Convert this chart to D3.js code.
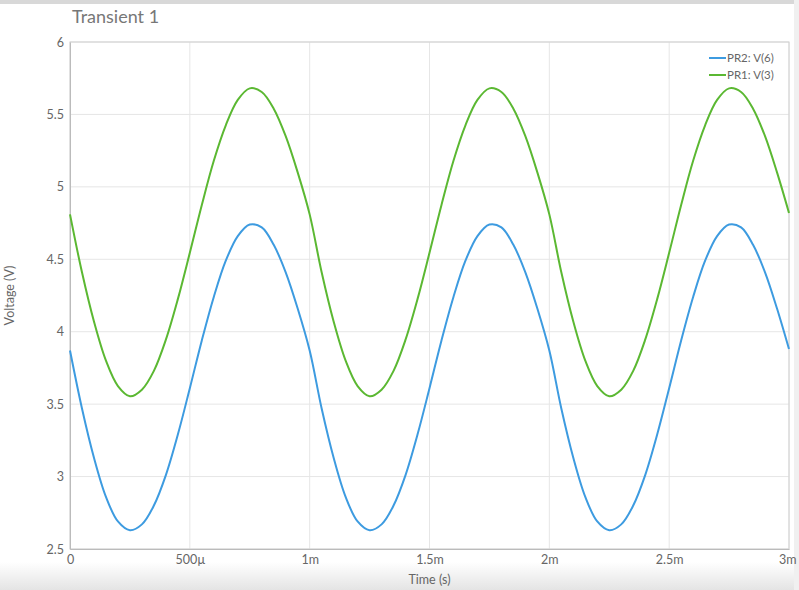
<!DOCTYPE html>
<html>
<head>
<meta charset="utf-8">
<script src="https://cdn.jsdelivr.net/npm/d3@7"></script>
<style>
  body { margin: 0; background: #fff; }
  svg { display: block; font-family: Lato, "Open Sans", sans-serif; }
</style>
</head>
<body>
<svg id="chart" width="799" height="590"></svg>
<script>
// time in ms, sampled every 50us
var times = d3.range(61).map(function (i) { return i * 0.05; });
var blueCycle = [3.87, 3.47, 3.13, 2.86, 2.69, 2.63, 2.67, 2.80, 3.01, 3.29,
                 3.61, 3.94, 4.24, 4.49, 4.66, 4.74, 4.72, 4.60, 4.41, 4.16];
var greenCycle = [4.81, 4.41, 4.07, 3.80, 3.625, 3.555, 3.60, 3.73, 3.945, 4.225,
                  4.545, 4.875, 5.18, 5.425, 5.60, 5.68, 5.655, 5.54, 5.35, 5.10];
var blueValues = blueCycle.concat(blueCycle, blueCycle, [3.88]);
var greenValues = greenCycle.concat(greenCycle, greenCycle, [4.82]);
var series = [
  {name: "PR2: V(6)", color: "#3d9be0", values: blueValues},
  {name: "PR1: V(3)", color: "#5bb832", values: greenValues}
];
var xTicks = [0, 0.5, 1, 1.5, 2, 2.5, 3];
var xTickLabels = ["0", "500\u00b5", "1m", "1.5m", "2m", "2.5m", "3m"];
var yTicks = [2.5, 3, 3.5, 4, 4.5, 5, 5.5, 6];

var svg = d3.select("#chart");
var m = {left: 70, right: 789, top: 42, bottom: 549};

// top shadow and bottom fade
var defs = svg.append("defs");
var g1 = defs.append("linearGradient").attr("id", "fade").attr("x1", 0).attr("x2", 0).attr("y1", 0).attr("y2", 1);
g1.append("stop").attr("offset", "0%").attr("stop-color", "#fff");
g1.append("stop").attr("offset", "100%").attr("stop-color", "#e4e4e4");
svg.append("rect").attr("x", 0).attr("y", 562).attr("width", 799).attr("height", 28).attr("fill", "url(#fade)");
svg.append("rect").attr("x", 0).attr("y", 0).attr("width", 799).attr("height", 4).attr("fill", "#d8d8d8");
svg.append("rect").attr("x", 794).attr("y", 0).attr("width", 5).attr("height", 590).attr("fill", "#f0f0f0");

var x = d3.scaleLinear().domain([0, 3]).range([m.left, m.right]);
var y = d3.scaleLinear().domain([2.5, 6]).range([m.bottom, m.top]);

svg.append("g").selectAll("line.gx").data(xTicks).join("line")
  .attr("x1", x).attr("x2", x).attr("y1", m.top).attr("y2", m.bottom)
  .attr("stroke", "#e6e6e6");
svg.append("g").selectAll("line.gy").data(yTicks).join("line")
  .attr("y1", y).attr("y2", y).attr("x1", m.left).attr("x2", m.right)
  .attr("stroke", "#e6e6e6");
svg.append("rect").attr("x", m.left).attr("y", m.top)
  .attr("width", m.right - m.left).attr("height", m.bottom - m.top)
  .attr("fill", "none").attr("stroke", "#d0d0d0");

var xAxis = svg.append("g").attr("transform", "translate(0," + m.bottom + ")")
  .call(d3.axisBottom(x).tickValues(xTicks).tickSize(0).tickPadding(6)
    .tickFormat(function (d, i) { return xTickLabels[i]; }));
var yAxis = svg.append("g").attr("transform", "translate(" + m.left + ",0)")
  .call(d3.axisLeft(y).tickValues(yTicks).tickSize(0).tickPadding(6).tickFormat(d3.format("")));
[xAxis, yAxis].forEach(function (a) {
  a.select(".domain").attr("stroke", "#bbb");
  a.selectAll("text").attr("fill", "#666").attr("font-size", 12.5).attr("font-family", "Lato, sans-serif");
});
xAxis.selectAll("text").filter(function (d) { return d === 3; }).attr("text-anchor", "end").attr("dx", "7");

svg.append("text").attr("x", (m.left + m.right) / 2).attr("y", 584).attr("text-anchor", "middle")
  .attr("fill", "#666").attr("font-size", 12.5).text("Time (s)");
svg.append("text").attr("transform", "translate(14," + ((m.top + m.bottom) / 2) + ") rotate(-90)")
  .attr("text-anchor", "middle").attr("fill", "#666").attr("font-size", 12.5).text("Voltage (V)");
svg.append("text").attr("x", 72).attr("y", 23).attr("fill", "#777").attr("font-size", 18).text("Transient 1");

var line = d3.line().x(function (d, i) { return x(times[i]); }).y(function (d) { return y(d); })
  .curve(d3.curveCatmullRom);
series.forEach(function (s) {
  svg.append("path").datum(s.values).attr("d", line).attr("fill", "none")
    .attr("stroke", s.color).attr("stroke-width", 2);
});

var leg = svg.append("g");
series.forEach(function (s, i) {
  var ly = 58 + i * 17;
  leg.append("line").attr("x1", 709).attr("x2", 726).attr("y1", ly).attr("y2", ly)
    .attr("stroke", s.color).attr("stroke-width", 2);
  leg.append("text").attr("x", 727).attr("y", ly + 4).attr("fill", "#666").attr("font-size", 11.5).text(s.name);
});
</script>
</body>
</html>
